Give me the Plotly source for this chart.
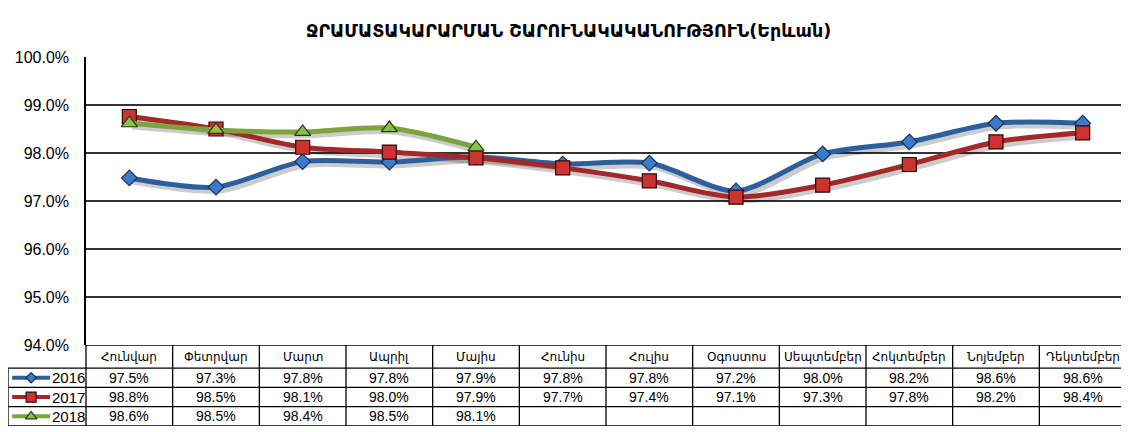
import plotly.graph_objects as go

# %% Dados
title = "ՋՐԱՄԱՏԱԿԱՐԱՐՄԱՆ ՇԱՐՈՒՆԱԿԱԿԱՆՈՒԹՅՈՒՆ(Երևան)"
months = ["Հունվար", "Փետրվար", "Մարտ", "Ապրիլ", "Մայիս", "Հունիս",
          "Հուլիս", "Օգոստոս", "Սեպտեմբեր", "Հոկտեմբեր", "Նոյեմբեր", "Դեկտեմբեր"]
years = ["2016", "2017", "2018"]
v2016 = [97.48, 97.29, 97.82, 97.81, 97.92, 97.77, 97.79, 97.21, 97.98, 98.23, 98.62, 98.62]
v2017 = [98.76, 98.50, 98.12, 98.02, 97.90, 97.69, 97.42, 97.08, 97.33, 97.76, 98.23, 98.42]
v2018 = [98.62, 98.48, 98.44, 98.52, 98.12]
yticks = [94, 95, 96, 97, 98, 99, 100]

# %% Estilo
# a página tem margem de 8px no body, então a figura começa em (8, 8)
OFF = 8
W, H = 1129 - OFF, 432 - OFF
px = lambda x: (x - OFF) / W
py = lambda y: 1 - (y - OFF) / H
FONT = "Arial, Liberation Sans, DejaVu Sans"

series = [
    (years[0], v2016, "#2D5E9E", dict(symbol="diamond", size=12, color="#3B7BCB", line=dict(color="#1A3150", width=1.2))),
    (years[1], v2017, "#A3282A", dict(symbol="square", size=14, color="#CC3330", line=dict(color="#2E0808", width=1.2))),
    (years[2], v2018, "#7CA33E", dict(symbol="triangle-up", size=14, color="#8CBF45", line=dict(color="#243A0C", width=1.2))),
]

fig = go.Figure()

# sombras
for name, vals, col, mk in series:
    xs = [i + 0.035 for i in range(len(vals))]
    ys = [v - 0.05 for v in vals]
    fig.add_trace(go.Scatter(x=xs, y=ys, mode="lines", line=dict(color="rgba(0,0,0,0.2)", width=8, shape="spline", smoothing=0.8),
                             hoverinfo="skip", showlegend=False))

for name, vals, col, mk in series:
    fig.add_trace(go.Scatter(x=list(range(len(vals))), y=vals, mode="lines+markers", name=name,
                             line=dict(color=col, width=5, shape="spline", smoothing=0.8),
                             marker=mk, showlegend=False))

# chaves da legenda na tabela
row_y = [1.7, 2.7, 3.7]
for (name, vals, col, mk), ry in zip(series, row_y):
    fig.add_trace(go.Scatter(x=[-1.352, -0.914], y=[ry, ry], mode="lines", line=dict(color=col, width=4),
                             xaxis="x2", yaxis="y2", showlegend=False, hoverinfo="skip"))
    mk2 = dict(mk)
    mk2["size"] = mk["size"] - 4
    fig.add_trace(go.Scatter(x=[-1.133], y=[ry], mode="markers", marker=mk2,
                             xaxis="x2", yaxis="y2", showlegend=False, hoverinfo="skip"))

# %% Tabela (linhas e textos)
XL, XR = -1.40, 11.5
shapes = []
line_style = dict(color="black", width=1.3)
shapes.append(dict(type="line", xref="x2", yref="y2", x0=-0.5, x1=XR, y0=0, y1=0, line=line_style))
for yy in [1.2, 2.2, 3.2, 4.2]:
    shapes.append(dict(type="line", xref="x2", yref="y2", x0=XL, x1=XR, y0=yy, y1=yy, line=line_style))
shapes.append(dict(type="line", xref="x2", yref="y2", x0=XL, x1=XL, y0=1.2, y1=4.2, line=line_style))
for i in range(13):
    shapes.append(dict(type="line", xref="x2", yref="y2", x0=i - 0.5, x1=i - 0.5, y0=0, y1=4.2, line=line_style))

annotations = [dict(text=title, x=px(568), y=py(19), xref="paper", yref="paper", showarrow=False,
                    font=dict(family="DejaVu Sans", size=17.5, color="black", weight="bold"))]
for i, m in enumerate(months):
    annotations.append(dict(text=m, x=i, y=0.6, xref="x2", yref="y2", showarrow=False,
                            font=dict(family=FONT, size=12, color="black")))
for vals, ry in zip([v2016, v2017, v2018], row_y):
    for i, v in enumerate(vals):
        annotations.append(dict(text=f"{v:.1f}%", x=i, y=ry, xref="x2", yref="y2", showarrow=False,
                                font=dict(family=FONT, size=14, color="black")))
for name, ry in zip(years, row_y):
    annotations.append(dict(text=name, x=-0.7, y=ry, xref="x2", yref="y2", showarrow=False,
                            font=dict(family=FONT, size=15, color="black")))

fig.update_layout(
    width=W, height=H,
    margin=dict(l=0, r=0, t=0, b=0, autoexpand=False),
    paper_bgcolor="white", plot_bgcolor="white",
    font=dict(family=FONT, color="black"),
    xaxis=dict(domain=[px(86), px(1126)], range=[-0.5, 11.5], showticklabels=False, showgrid=False,
               zeroline=False, fixedrange=True, automargin=False),
    yaxis=dict(domain=[py(345), py(57)], range=[94, 100], tickvals=yticks,
               ticktext=[f"{t:.1f}%" for t in yticks], tickfont=dict(size=16, family=FONT),
               showgrid=True, gridcolor="#333333", gridwidth=1.6, zeroline=False, automargin=False,
               showline=True, linecolor="black", linewidth=1.6, ticks="", ticklabelstandoff=12),
    xaxis2=dict(domain=[px(8), px(1126)], range=[XL, XR], visible=False, anchor="y2", automargin=False),
    yaxis2=dict(domain=[py(426), py(345)], range=[4.2, 0], visible=False, anchor="x2", automargin=False),
    shapes=shapes,
    annotations=annotations,
)

fig.write_html("out.html")
